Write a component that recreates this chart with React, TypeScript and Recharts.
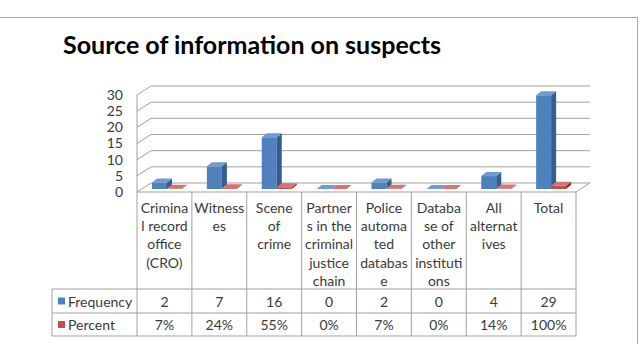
import React from 'react';
import { BarChart, Bar, XAxis, YAxis, CartesianGrid } from 'recharts';

const categories = [
  'Criminal record office (CRO)',
  'Witnesses',
  'Scene of crime',
  'Partners in the criminal justice chain',
  'Police automated database',
  'Database of other institutions',
  'All alternatives',
  'Total',
];

// header text broken the way the source table wraps it
const labelLines = [
  ['Crimina', 'l record', 'office', '(CRO)'],
  ['Witness', 'es'],
  ['Scene', 'of', 'crime'],
  ['Partner', 's in the', 'criminal', 'justice', 'chain'],
  ['Police', 'automa', 'ted', 'databas', 'e'],
  ['Databa', 'se of', 'other', 'instituti', 'ons'],
  ['All', 'alternat', 'ives'],
  ['Total'],
];

const frequency = [2, 7, 16, 0, 2, 0, 4, 29];
const percent = [0.07, 0.24, 0.55, 0, 0.07, 0, 0.14, 1];
const yTicks = [0, 5, 10, 15, 20, 25, 30];

const data = categories.map((name, i) => ({
  name,
  Frequency: frequency[i],
  Percent: percent[i],
}));

const FONT = 'Lato, "Open Sans", sans-serif';
const TEXT = '#3a3a3a';
const BORDER = '#a0a0a0';

// plot box
const LEFT = 137;
const RIGHT = 576;
const TOP = 95;
const FLOOR = 192;
const COL_W = (RIGHT - LEFT) / categories.length;
// 3d depth of the walls
const DX = 14;
const DY = 9;

const ROW_HEAD = 289;
const ROW_FREQ = 313;
const ROW_END = 336;
const LEGEND_L = 52;

const BLUE = { front: '#4f81bd', side: '#345e92', top: '#6f9ad2' };
const RED = { front: '#c0504d', side: '#8e3331', top: '#d6726f' };

function make3D(c: typeof BLUE) {
  return (props: any) => {
    const { x, y, width } = props;
    const h = Math.max(0, props.height || 0);
    const x0 = x + 3;
    const y0 = y - 3;
    const dx = 5;
    const dy = 4;
    return (
      <g>
        {h > 0 && <rect x={x0} y={y0} width={width} height={h} fill={c.front} />}
        {h > 0 && (
          <polygon
            points={`${x0 + width},${y0} ${x0 + width + dx},${y0 - dy} ${x0 + width + dx},${y0 + h - dy} ${x0 + width},${y0 + h}`}
            fill={c.side}
          />
        )}
        <polygon
          points={`${x0},${y0} ${x0 + dx},${y0 - dy} ${x0 + width + dx},${y0 - dy} ${x0 + width},${y0}`}
          fill={c.top}
        />
      </g>
    );
  };
}

const gridLine = (props: any) => {
  const { x1, y1, x2, key } = props;
  const bottom = Math.abs(y1 - FLOOR) < 1;
  return (
    <g key={key}>
      <line x1={x1} y1={y1} x2={x1 + DX} y2={y1 - DY} stroke={BORDER} />
      <line x1={x1 + DX} y1={y1 - DY} x2={x2 + DX} y2={y1 - DY} stroke={BORDER} />
      {bottom && <line x1={x2} y1={y1} x2={x2 + DX} y2={y1 - DY} stroke={BORDER} />}
    </g>
  );
};

const TableTick = (props: any) => {
  const { x, index } = props;
  const l = x - COL_W / 2;
  const r = x + COL_W / 2;
  const lines = labelLines[index] || [];
  const ts = { fontFamily: FONT, fontSize: 14, fill: TEXT };
  return (
    <g>
      <line x1={l} y1={FLOOR} x2={r} y2={FLOOR} stroke={BORDER} />
      <line x1={l} y1={ROW_HEAD} x2={r} y2={ROW_HEAD} stroke={BORDER} />
      <line x1={l} y1={ROW_FREQ} x2={r} y2={ROW_FREQ} stroke={BORDER} />
      <line x1={l} y1={ROW_END} x2={r} y2={ROW_END} stroke={BORDER} />
      <line x1={r} y1={FLOOR} x2={r} y2={ROW_END} stroke={BORDER} />
      {index === 0 && (
        <g>
          <line x1={l} y1={FLOOR} x2={l} y2={ROW_END} stroke={BORDER} />
          <line x1={LEGEND_L} y1={ROW_HEAD} x2={l} y2={ROW_HEAD} stroke={BORDER} />
          <line x1={LEGEND_L} y1={ROW_FREQ} x2={l} y2={ROW_FREQ} stroke={BORDER} />
          <line x1={LEGEND_L} y1={ROW_END} x2={l} y2={ROW_END} stroke={BORDER} />
          <line x1={LEGEND_L} y1={ROW_HEAD} x2={LEGEND_L} y2={ROW_END} stroke={BORDER} />
          <rect x={58} y={(ROW_HEAD + ROW_FREQ) / 2 - 3.5} width={7} height={7} fill={BLUE.front} />
          <rect x={58} y={(ROW_FREQ + ROW_END) / 2 - 3.5} width={7} height={7} fill={RED.front} />
          <text x={68} y={(ROW_HEAD + ROW_FREQ) / 2} dominantBaseline="central" {...ts}>Frequency</text>
          <text x={68} y={(ROW_FREQ + ROW_END) / 2} dominantBaseline="central" {...ts}>Percent</text>
        </g>
      )}
      {lines.map((t, i) => (
        <text key={i} x={x} y={207 + i * 18.4} textAnchor="middle" dominantBaseline="central" {...ts}>
          {t}
        </text>
      ))}
      <text x={x} y={(ROW_HEAD + ROW_FREQ) / 2} textAnchor="middle" dominantBaseline="central" {...ts}>
        {frequency[index]}
      </text>
      <text x={x} y={(ROW_FREQ + ROW_END) / 2} textAnchor="middle" dominantBaseline="central" {...ts}>
        {Math.round(percent[index] * 100) + '%'}
      </text>
    </g>
  );
};

export default function App() {
  return (
    <div style={{ position: 'absolute', left: 0, top: 0, width: 640, height: 344, overflow: 'hidden', background: '#fff' }}>
      <div
        style={{
          position: 'absolute',
          left: -2,
          top: 17,
          width: 638,
          height: 360,
          border: '1px solid #a6a6a6',
        }}
      />
      <div
        style={{
          position: 'absolute',
          left: 63,
          top: 29,
          fontFamily: FONT,
          fontWeight: 700,
          fontSize: 25,
          color: '#000',
          whiteSpace: 'nowrap',
        }}
      >
        Source of information on suspects
      </div>
      <div style={{ position: 'absolute', left: 0, top: 0 }}>
        <BarChart
          width={640}
          height={344}
          data={data}
          margin={{ top: TOP, right: 640 - RIGHT, bottom: 0, left: 0 }}
          barSize={15}
          barGap={0}
        >
          <CartesianGrid horizontal={gridLine} vertical={false} />
          <XAxis
            dataKey="name"
            height={344 - FLOOR}
            axisLine={false}
            tickLine={false}
            interval={0}
            tick={<TableTick />}
          />
          <YAxis
            width={LEFT}
            domain={[0, 30]}
            ticks={yTicks}
            interval={0}
            tickLine={false}
            tickMargin={8}
            axisLine={{ stroke: BORDER }}
            tick={{ fontFamily: FONT, fontSize: 14, fill: TEXT }}
          />
          <Bar dataKey="Frequency" isAnimationActive={false} shape={make3D(BLUE)} />
          <Bar dataKey="Percent" isAnimationActive={false} shape={make3D(RED)} />
        </BarChart>
      </div>
    </div>
  );
}
